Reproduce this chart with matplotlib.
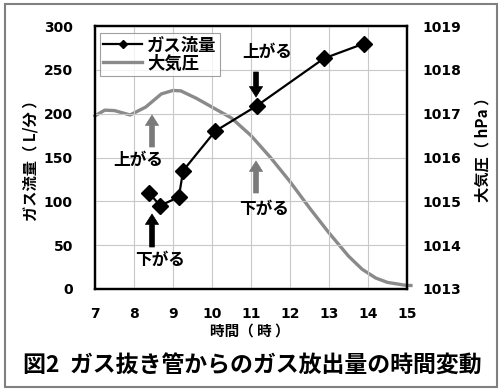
import matplotlib
matplotlib.use("Agg")
import matplotlib.pyplot as plt
from matplotlib.patches import Rectangle

# Data
gas_time = [8.38, 8.67, 9.15, 9.26, 10.08, 11.15, 12.87, 13.9]
gas_flow = [110, 95, 105, 135, 180, 209, 263, 280]

pres_time = [7.0, 7.25, 7.5, 7.9, 8.3, 8.7, 9.0, 9.2, 9.6, 10.0, 10.5, 11.0,
             11.5, 12.0, 12.5, 13.0, 13.5, 13.85, 14.2, 14.5, 15.0, 15.1]
pres_val = [1016.95, 1017.08, 1017.07, 1016.97, 1017.15, 1017.45, 1017.53, 1017.52,
            1017.35, 1017.15, 1016.9, 1016.5, 1016.0, 1015.45, 1014.85, 1014.28,
            1013.75, 1013.45, 1013.25, 1013.15, 1013.08, 1013.08]

x_ticks = [7, 8, 9, 10, 11, 12, 13, 14, 15]
y_left_ticks = [0, 50, 100, 150, 200, 250, 300]
y_right_ticks = [1013, 1014, 1015, 1016, 1017, 1018, 1019]

JP = ['Noto Sans CJK JP', 'DejaVu Sans']
plt.rcParams['font.family'] = JP

fig = plt.figure(figsize=(5.04, 3.9), dpi=100)
fig.patch.set_facecolor('white')
fig.add_artist(Rectangle((5/504, 1-387/390), 492/504, 383/390, transform=fig.transFigure,
                         fill=False, edgecolor='#808080', lw=1.5))

ax = fig.add_axes([95/504, 1-289/390, 312/504, 263/390])
ax2 = ax.twinx()

ax.set_xlim(7, 15)
ax.set_ylim(0, 300)
ax2.set_ylim(1013, 1019)
ax.set_xticks(x_ticks)
ax.set_yticks(y_left_ticks)
ax2.set_yticks(y_right_ticks)
ax.grid(True, color='#c8c8c8', lw=0.8)
ax.set_axisbelow(True)

tickfont = dict(family='DejaVu Sans', weight='bold', size=10)
ax.set_xticklabels([str(t) for t in x_ticks], fontdict=tickfont)
ax.set_yticklabels([str(t) for t in y_left_ticks], fontdict=tickfont)
ax2.set_yticklabels([str(t) for t in y_right_ticks], fontdict=tickfont)
ax.tick_params(axis='x', length=0, pad=13)
ax.tick_params(axis='y', length=0, pad=16)
ax2.tick_params(axis='y', length=0, pad=11)

for a in (ax, ax2):
    for s in a.spines.values():
        s.set_linewidth(1.6)
        s.set_color('black')

lp, = ax2.plot(pres_time, pres_val, color='#8a8a8a', lw=2.4, clip_on=False, zorder=2)
lg, = ax.plot(gas_time, gas_flow, color='black', lw=1.6, marker='D', markersize=8, zorder=3)
ax.set_zorder(ax2.get_zorder() + 1)
ax.patch.set_visible(False)

leg = fig.legend([lg, lp], ['ガス流量', '大気圧'], loc='upper left',
                 bbox_to_anchor=(100/504, 1-33/390), bbox_transform=fig.transFigure,
                 prop=dict(family=JP, weight='bold', size=12.5), frameon=True, fancybox=False,
                 edgecolor='#888888', borderpad=0.2, labelspacing=0.0, handlelength=2.2,
                 handletextpad=0.3, borderaxespad=0, markerscale=0.5)
leg.get_frame().set_linewidth(0.8)

fig.text(250/504, 1-331/390, '時間（ 時 ）', ha='center', va='center',
         fontsize=10.5, fontweight='bold', family=JP)
fig.text(30/504, 1-157/390, 'ガス流量（ L/分 ）', rotation=90, ha='center', va='center',
         fontsize=11, fontweight='bold', family=JP)
fig.text(482/504, 1-146/390, '大気圧（ hPa ）', rotation=90, ha='center', va='center',
         fontsize=11, fontweight='bold', family=JP)
fig.text(252/504, 1-366/390, '図2  ガス抜き管からのガス放出量の時間変動', ha='center', va='center',
         fontsize=16.5, fontweight='bold', family=JP)

def px(x, y):
    return (x/504, 1-y/390)

def arrow(x, ytail, ytip, color):
    ax.annotate('', xy=px(x, ytip), xytext=px(x, ytail), xycoords='figure fraction',
                textcoords='figure fraction',
                arrowprops=dict(width=3.5, headwidth=9.5, headlength=7.5, shrink=0,
                                facecolor=color, edgecolor=color, lw=0.5),
                annotation_clip=False)

arrow(152, 147, 115, '#7a7a7a')
arrow(152, 247, 214, 'black')
arrow(256, 72, 97, 'black')
arrow(256, 193, 161, '#7a7a7a')

txt = dict(ha='center', va='center', fontsize=12, fontweight='bold', family=JP)
fig.text(*px(138, 160), '上がる', **txt)
fig.text(*px(160, 260), '下がる', **txt)
fig.text(*px(267, 52), '上がる', **txt)
fig.text(*px(264, 209), '下がる', **txt)

fig.savefig('out.png', dpi=100)
